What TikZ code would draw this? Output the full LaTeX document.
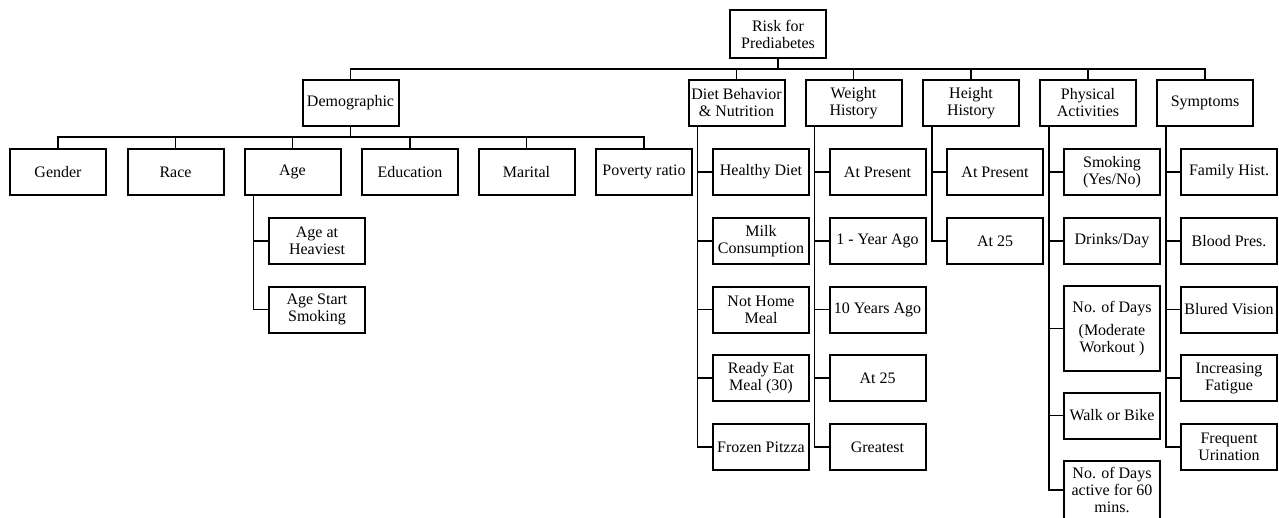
\documentclass[tikz,border=0pt]{standalone}
\usepackage{fontspec}
\setmainfont{Liberation Serif}

\tikzset{
    box/.style={draw, line width=1.5pt, minimum width=72pt, minimum height=34.5pt,
        align=center, inner sep=1pt, font=\fontsize{12}{12.75}\selectfont},
    link/.style={line width=0.8pt},
}

\begin{document}
\begin{tikzpicture}[x=0.75pt, y=-0.75pt]

    % Frame of the picture (the last box runs off the bottom edge)
    \clip (0,0) rectangle (1279,518);

    % Root
    \node[box, minimum height=36pt] (risk) at (778,34) {Risk for\\Prediabetes};

    % Second level
    \node[box] (demo)   at (350.5,103) {Demographic};
    \node[box] (diet)   at (736.5,103) {Diet Behavior\\\& Nutrition};
    \node[box] (weight) at (853.5,103) {Weight\\History};
    \node[box] (height) at (971,103)   {Height\\History};
    \node[box] (phys)   at (1088,103)  {Physical\\Activities};
    \node[box] (sympt)  at (1205,103)  {Symptoms};

    % Demographic row
    \node[box] (gender)  at (58,172)    {Gender};
    \node[box] (race)    at (175.5,172) {Race};
    \node[box] (age)     at (292.5,172) {Age};
    \node[box] (edu)     at (410,172)   {Education};
    \node[box] (marital) at (526.5,172) {Marital};
    \node[box] (poverty) at (644,172)   {Poverty ratio};

    % Under Age
    \node[box] (ageheavy) at (317,241)   {Age at\\Heaviest};
    \node[box] (agesmoke) at (317,309.5) {Age Start\\Smoking};

    % Diet column
    \node[box] (healthy) at (761,172)   {Healthy Diet};
    \node[box] (milk)    at (761,241)   {Milk\\Consumption};
    \node[box] (nothome) at (761,309.5) {Not Home\\Meal};
    \node[box] (ready)   at (761,378)   {Ready Eat\\Meal (30)};
    \node[box] (frozen)  at (761,447)   {Frozen Pitzza};

    % Weight column
    \node[box] (wnow)   at (877.5,172)   {At Present};
    \node[box] (wone)   at (877.5,241)   {1 - Year Ago};
    \node[box] (wten)   at (877.5,309.5) {10 Years Ago};
    \node[box] (wtwfv)  at (877.5,378)   {At 25};
    \node[box] (wmax)   at (877.5,447)   {Greatest};

    % Height column
    \node[box] (hnow)  at (995,172) {At Present};
    \node[box] (htwfv) at (995,241) {At 25};

    % Physical activities column
    \node[box] (smoking) at (1112,172) {Smoking\\(Yes/No)};
    \node[box] (drinks)  at (1112,241) {Drinks/Day};
    \node[box, minimum height=63.75pt] (moddays) at (1112,328.5)
        {No. of Days\\[4.5pt](Moderate\\Workout )};
    \node[box] (walk)    at (1112,415.5) {Walk or Bike};
    \node[box, minimum height=43.5pt] (actdays) at (1112,490)
        {No. of Days\\active for 60\\mins.};

    % Symptoms column
    \node[box] (family)  at (1229,172)   {Family Hist.};
    \node[box] (blood)   at (1229,241)   {Blood Pres.};
    \node[box] (vision)  at (1229,309.5) {Blured Vision};
    \node[box] (fatigue) at (1229,378)   {Increasing\\Fatigue};
    \node[box] (urine)   at (1229,447)   {Frequent\\Urination};

    % Root to second level
    \foreach \c in {demo,diet,weight,height,phys,sympt}
        \draw[link] (risk.south) -- ++(0,10) -| (\c.north);

    % Demographic to its row
    \foreach \c in {gender,race,age,edu,marital,poverty}
        \draw[link] (demo.south) -- ++(0,10) -| (\c.north);

    % Side branches hanging from a spine on the left
    \foreach \c in {ageheavy,agesmoke}
        \draw[link] ([xshift=7.5pt]age.south west) |- (\c.west);
    \foreach \c in {healthy,milk,nothome,ready,frozen}
        \draw[link] ([xshift=7.5pt]diet.south west) |- (\c.west);
    \foreach \c in {wnow,wone,wten,wtwfv,wmax}
        \draw[link] ([xshift=7.5pt]weight.south west) |- (\c.west);
    \foreach \c in {hnow,htwfv}
        \draw[link] ([xshift=7.5pt]height.south west) |- (\c.west);
    \foreach \c in {smoking,drinks,moddays,walk,actdays}
        \draw[link] ([xshift=7.5pt]phys.south west) |- (\c.west);
    \foreach \c in {family,blood,vision,fatigue,urine}
        \draw[link] ([xshift=7.5pt]sympt.south west) |- (\c.west);

\end{tikzpicture}
\end{document}
